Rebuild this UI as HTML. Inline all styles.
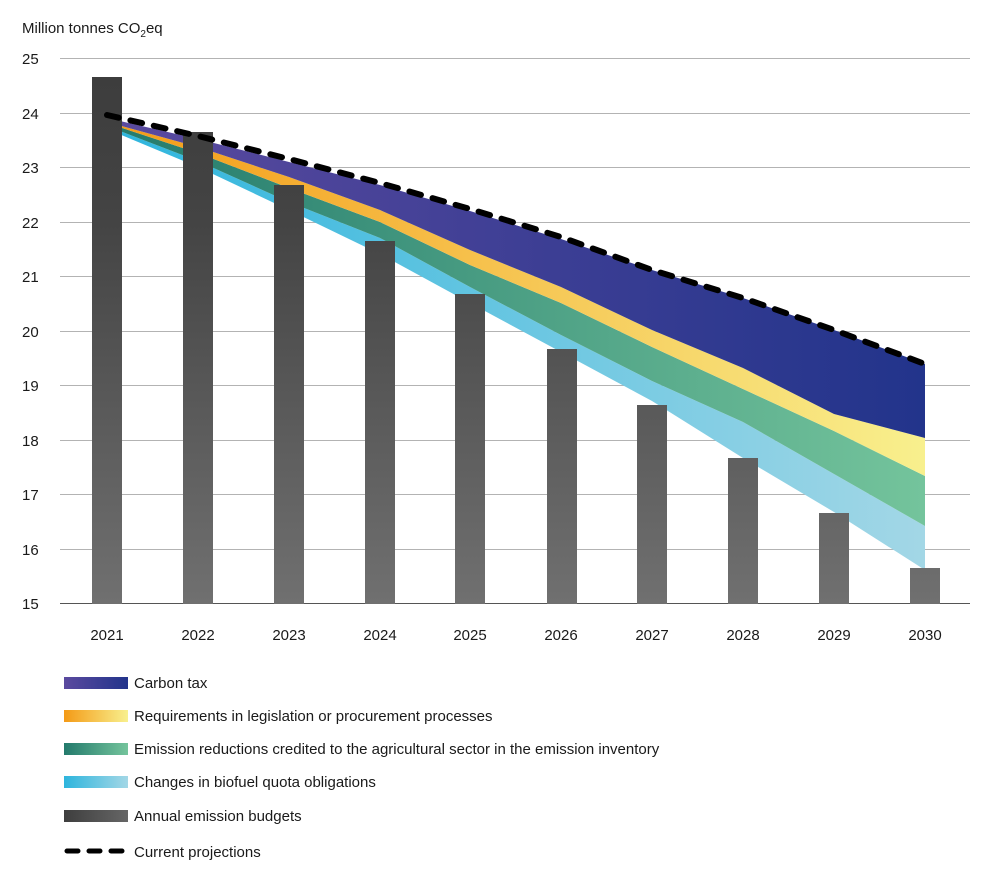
<!DOCTYPE html>
<html><head><meta charset="utf-8"><style>
body{margin:0;background:#fff}
text{font-family:"Liberation Sans",sans-serif;fill:#1a1a1a}
</style></head><body>
<svg width="1000" height="881" viewBox="0 0 1000 881" xmlns="http://www.w3.org/2000/svg">
<defs>
<linearGradient id="gp" x1="0" x2="1"><stop offset="0" stop-color="#5b4a9f"/><stop offset="1" stop-color="#22348b"/></linearGradient>
<linearGradient id="go" x1="0" x2="1"><stop offset="0" stop-color="#f49a16"/><stop offset="1" stop-color="#f8f08e"/></linearGradient>
<linearGradient id="gg" x1="0" x2="1"><stop offset="0" stop-color="#237a6c"/><stop offset="1" stop-color="#74c49c"/></linearGradient>
<linearGradient id="gb" x1="0" x2="1"><stop offset="0" stop-color="#2db5dd"/><stop offset="1" stop-color="#a3d7e6"/></linearGradient>
<linearGradient id="gbar" gradientUnits="userSpaceOnUse" x1="0" y1="60" x2="0" y2="604"><stop offset="0" stop-color="#3c3c3c"/><stop offset="0.3" stop-color="#444"/><stop offset="1" stop-color="#707070"/></linearGradient>
<linearGradient id="gbarh" x1="0" x2="1"><stop offset="0" stop-color="#3e3e3e"/><stop offset="1" stop-color="#666"/></linearGradient>
</defs>
<text x="22" y="33" font-size="15">Million tonnes CO<tspan font-size="10" dy="4">2</tspan><tspan dy="-4">eq</tspan></text>
<g stroke="#b3b3b3" stroke-width="1">
<line x1="60" x2="970" y1="58.5" y2="58.5"/><line x1="60" x2="970" y1="113.5" y2="113.5"/><line x1="60" x2="970" y1="167.5" y2="167.5"/><line x1="60" x2="970" y1="222.5" y2="222.5"/><line x1="60" x2="970" y1="276.5" y2="276.5"/><line x1="60" x2="970" y1="331.5" y2="331.5"/><line x1="60" x2="970" y1="385.5" y2="385.5"/><line x1="60" x2="970" y1="440.5" y2="440.5"/><line x1="60" x2="970" y1="494.5" y2="494.5"/><line x1="60" x2="970" y1="549.5" y2="549.5"/>
</g>
<line x1="60" x2="970" y1="603.5" y2="603.5" stroke="#555"/>
<g font-size="15" text-anchor="start">
<text x="22" y="64">25</text><text x="22" y="119">24</text><text x="22" y="173">23</text><text x="22" y="228">22</text><text x="22" y="282">21</text><text x="22" y="337">20</text><text x="22" y="391">19</text><text x="22" y="446">18</text><text x="22" y="500">17</text><text x="22" y="555">16</text><text x="22" y="609">15</text>
</g>
<polygon fill="url(#gb)" points="107,126 198,161 289,202 380,238 470,287 561,335 652,381 743,422 834,474 925,526 925,570 834,512 743,458 652,401 561,352 470,303 380,254 289,210 198,167 107,129"/>
<polygon fill="url(#gg)" points="107,123 198,153 289,188 380,222 470,265 561,303 652,347 743,389 834,431 925,476 925,526 834,474 743,422 652,381 561,335 470,287 380,238 289,202 198,161 107,126"/>
<polygon fill="url(#go)" points="107,122 198,147 289,177 380,210 470,250 561,287 652,330 743,368 834,414 925,438 925,476 834,431 743,389 652,347 561,303 470,265 380,222 289,188 198,153 107,123"/>
<polygon fill="url(#gp)" points="107,118 198,139 289,162 380,185 470,211 561,239 652,270 743,298 834,330 925,364 925,438 834,414 743,368 652,330 561,287 470,250 380,210 289,177 198,147 107,122"/>
<g fill="url(#gbar)">
<rect x="92" y="77" width="30" height="527"/><rect x="183" y="132" width="30" height="472"/><rect x="274" y="185" width="30" height="419"/><rect x="365" y="241" width="30" height="363"/><rect x="455" y="294" width="30" height="310"/><rect x="547" y="349" width="30" height="255"/><rect x="637" y="405" width="30" height="199"/><rect x="728" y="458" width="30" height="146"/><rect x="819" y="513" width="30" height="91"/><rect x="910" y="568" width="30" height="36"/>
</g>
<polyline fill="none" stroke="#000" stroke-width="6" stroke-linecap="round" stroke-dasharray="12,12" points="107,115 198,136 289,159 380,183 470,209 561,237 652,270 743,298 834,330 925,364"/>
<g font-size="15" text-anchor="middle">
<text x="107" y="640">2021</text><text x="198" y="640">2022</text><text x="289" y="640">2023</text><text x="380" y="640">2024</text><text x="470" y="640">2025</text><text x="561" y="640">2026</text><text x="652" y="640">2027</text><text x="743" y="640">2028</text><text x="834" y="640">2029</text><text x="925" y="640">2030</text>
</g>
<rect x="64" y="677" width="64" height="12" fill="url(#gp)"/>
<rect x="64" y="710" width="64" height="12" fill="url(#go)"/>
<rect x="64" y="743" width="64" height="12" fill="url(#gg)"/>
<rect x="64" y="776" width="64" height="12" fill="url(#gb)"/>
<rect x="64" y="810" width="64" height="12" fill="url(#gbarh)"/>
<line x1="67" x2="125" y1="851" y2="851" stroke="#000" stroke-width="5" stroke-linecap="round" stroke-dasharray="11,11"/>
<g font-size="15">
<text x="134" y="688">Carbon tax</text>
<text x="134" y="721">Requirements in legislation or procurement processes</text>
<text x="134" y="754">Emission reductions credited to the agricultural sector in the emission inventory</text>
<text x="134" y="787">Changes in biofuel quota obligations</text>
<text x="134" y="821">Annual emission budgets</text>
<text x="134" y="857">Current projections</text>
</g>
</svg>
</body></html>
